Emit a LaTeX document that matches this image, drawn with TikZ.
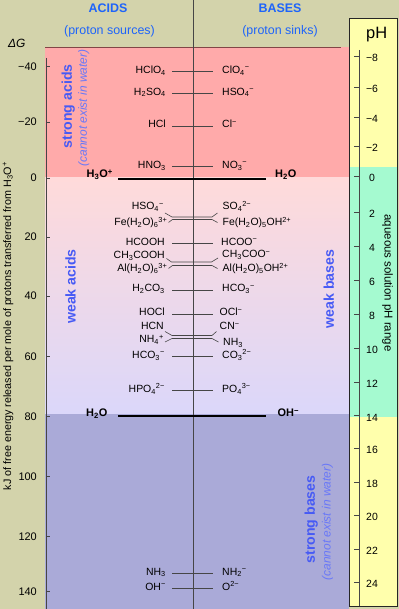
\documentclass[tikz,border=0pt]{standalone}
\usepackage{fontspec}
\setmainfont{Liberation Sans}
\definecolor{khakibg}{RGB}{211,211,171}
\definecolor{acidred}{RGB}{255,170,170}
\definecolor{weaktop}{RGB}{255,218,218}
\definecolor{weakbot}{RGB}{219,215,250}
\definecolor{basesblue}{RGB}{170,170,216}
\definecolor{phyellow}{RGB}{255,255,172}
\definecolor{phaqua}{RGB}{165,250,208}
\definecolor{headblue}{RGB}{30,100,250}
\definecolor{labelblue}{RGB}{70,90,245}
\definecolor{noteblue}{RGB}{105,120,248}
\definecolor{pairgray}{RGB}{70,70,70}
\definecolor{topline}{RGB}{130,70,70}
\begin{document}
\begin{tikzpicture}[
    acidlbl/.style={anchor=base east,inner sep=0pt,font=\fontsize{10.5}{12}\selectfont},
    baselbl/.style={anchor=base west,inner sep=0pt,font=\fontsize{10.5}{12}\selectfont},
    waterlbl/.style={inner sep=0pt,font=\bfseries\fontsize{11}{13}\selectfont},
    pair/.style={draw=pairgray,line width=0.6bp},
    waterline/.style={line width=1.3bp},
    tick/.style={draw=pairgray,line width=0.6bp},
    dglbl/.style={anchor=east,inner sep=0pt,font=\fontsize{11}{13}\selectfont},
    phlbl/.style={inner sep=0pt,font=\fontsize{10.5}{12}\selectfont},
    header/.style={text=headblue,font=\bfseries\fontsize{12.5}{14}\selectfont},
    subheader/.style={text=headblue,font=\fontsize{12.5}{14}\selectfont},
    region/.style={rotate=90,text=labelblue,font=\bfseries\fontsize{14.2}{16}\selectfont},
    regionnote/.style={rotate=90,text=noteblue,font=\itshape\fontsize{12}{14}\selectfont}]
  \useasboundingbox (0bp,0bp) rectangle (399bp,609bp);
  \fill [khakibg] (0bp,0bp) rectangle (399bp,609bp);
  %% bands
  \fill [acidred] (45bp,431bp) rectangle (349bp,562bp);
  \shade [top color=weaktop,bottom color=weakbot] (45bp,195bp) rectangle (349bp,431bp);
  \fill [basesblue] (45bp,0bp) rectangle (349bp,195bp);
  \draw [topline,line width=0.8bp] (45bp,562bp) -- (341bp,562bp);
  \draw [pairgray,line width=0.6bp] (193.3bp,0bp) -- (193.3bp,609bp);
  %% headers
  \node (Acids) at (108bp,600.3bp) [header] {ACIDS};
  \node (Sources) at (109.5bp,577.7bp) [subheader] {(proton sources)};
  \node (Bases) at (280bp,600.3bp) [header] {BASES};
  \node (Sinks) at (280bp,577.7bp) [subheader] {(proton sinks)};
  \node (DeltaG) at (16.7bp,565.2bp) [font=\itshape\fontsize{12}{14}\selectfont] {ΔG};
  \node (AxisTitle) at (8bp,283bp) [rotate=90,font=\fontsize{10.8}{12}\selectfont] {kJ of free energy released per mole of protons transferred from H\textsubscript{3}O\textsuperscript{+}};
  %% energy axis
  \draw [tick] (46bp,551bp) -- (46bp,0bp);
  \draw [tick] (46bp,542.3bp) -- (50bp,542.3bp);
  \node (dGm40) at (37bp,542.3bp) [dglbl] {−40};
  \draw [tick] (46bp,487bp) -- (50bp,487bp);
  \node (dGm20) at (37bp,487bp) [dglbl] {−20};
  \draw [tick] (46bp,431bp) -- (50bp,431bp);
  \node (dG0) at (37bp,431bp) [dglbl] {0};
  \draw [tick] (46bp,372bp) -- (50bp,372bp);
  \node (dG20) at (37bp,372bp) [dglbl] {20};
  \draw [tick] (46bp,313bp) -- (50bp,313bp);
  \node (dG40) at (37bp,313bp) [dglbl] {40};
  \draw [tick] (46bp,252.3bp) -- (50bp,252.3bp);
  \node (dG60) at (37bp,252.3bp) [dglbl] {60};
  \draw [tick] (46bp,192.3bp) -- (50bp,192.3bp);
  \node (dG80) at (37bp,192.3bp) [dglbl] {80};
  \draw [tick] (46bp,132.3bp) -- (50bp,132.3bp);
  \node (dG100) at (37bp,132.3bp) [dglbl] {100};
  \draw [tick] (46bp,72.3bp) -- (50bp,72.3bp);
  \node (dG120) at (37bp,72.3bp) [dglbl] {120};
  \draw [tick] (46bp,17.3bp) -- (50bp,17.3bp);
  \node (dG140) at (37bp,17.3bp) [dglbl] {140};
  %% region labels
  \node (StrongAcids) at (68.3bp,502.5bp) [region] {strong acids};
  \node (StrongAcidsNote) at (83.8bp,501bp) [regionnote] {(cannot exist in water)};
  \node (WeakAcids) at (70.5bp,322.5bp) [region] {weak acids};
  \node (WeakBases) at (328.7bp,320bp) [region] {weak bases};
  \node (StrongBases) at (311.3bp,89.5bp) [region] {strong bases};
  \node (StrongBasesNote) at (327.5bp,87bp) [regionnote] {(cannot exist in water)};
  %% water levels
  \node (H3Op) at (113bp,431bp) [waterlbl,anchor=base east] {H\textsubscript{3}O\textsuperscript{+}};
  \node (H2Oa) at (275bp,431bp) [waterlbl,anchor=base west] {H\textsubscript{2}O};
  \draw [waterline] ([shift={(5bp,-1bp)}]H3Op.base east) -- ([shift={(-9bp,-1bp)}]H2Oa.base west);
  \node (H2Ob) at (107.5bp,192bp) [waterlbl,anchor=base east] {H\textsubscript{2}O};
  \node (OHm) at (277.5bp,192bp) [waterlbl,anchor=base west] {OH\textsuperscript{−}};
  \draw [waterline] ([shift={(10.5bp,1bp)}]H2Ob.base east) -- ([shift={(-11.5bp,1bp)}]OHm.base west);
  %% strong acids
  \node (HClO4) at (166bp,535.3bp) [acidlbl] {HClO\textsubscript{4}};
  \node (ClO4m) at (222bp,535.3bp) [baselbl] {ClO\textsubscript{4}\textsuperscript{−}};
  \draw [pair] ([shift={(6bp,2bp)}]HClO4.base east) -- ([shift={(-9bp,2bp)}]ClO4m.base west);
  \node (H2SO4) at (166bp,513.7bp) [acidlbl] {H\textsubscript{2}SO\textsubscript{4}};
  \node (HSO4m) at (222bp,513.7bp) [baselbl] {HSO\textsubscript{4}\textsuperscript{−}};
  \draw [pair] ([shift={(6bp,2bp)}]H2SO4.base east) -- ([shift={(-9bp,2bp)}]HSO4m.base west);
  \node (HCl) at (166bp,481bp) [acidlbl] {HCl};
  \node (Clm) at (222bp,481bp) [baselbl] {Cl\textsuperscript{−}};
  \draw [pair] ([shift={(6bp,2bp)}]HCl.base east) -- ([shift={(-9bp,2bp)}]Clm.base west);
  \node (HNO3) at (166bp,440.3bp) [acidlbl] {HNO\textsubscript{3}};
  \node (NO3m) at (222bp,440.3bp) [baselbl] {NO\textsubscript{3}\textsuperscript{−}};
  \draw [pair] ([shift={(6bp,2bp)}]HNO3.base east) -- ([shift={(-9bp,2bp)}]NO3m.base west);
  %% weak acids
  \node (HSO4ma) at (164bp,399bp) [acidlbl] {HSO\textsubscript{4}\textsuperscript{−}};
  \node (SO4mm) at (222.5bp,399bp) [baselbl] {SO\textsubscript{4}\textsuperscript{2−}};
  \draw [pair] ([shift={(1bp,-3bp)}]HSO4ma.base east) -- ++(7bp,-4bp) -- ++(40bp,0bp) -- ([shift={(-5bp,-3bp)}]SO4mm.base west);
  \node (FeH2O6) at (167.5bp,383bp) [acidlbl] {Fe(H\textsubscript{2}O)\textsubscript{6}\textsuperscript{3+}};
  \node (FeOH) at (222.5bp,383bp) [baselbl] {Fe(H\textsubscript{2}O)\textsubscript{5}OH\textsuperscript{2+}};
  \draw [pair] ([shift={(1bp,3.5bp)}]FeH2O6.base east) -- ++(4bp,3bp) -- ++(39.5bp,0bp) -- ([shift={(-5bp,3.5bp)}]FeOH.base west);
  \node (HCOOH) at (165bp,363.7bp) [acidlbl] {HCOOH};
  \node (HCOOm) at (221bp,363.7bp) [baselbl] {HCOO\textsuperscript{−}};
  \draw [pair] ([shift={(7bp,2bp)}]HCOOH.base east) -- ([shift={(-8bp,2bp)}]HCOOm.base west);
  \node (CH3COOH) at (165bp,350.5bp) [acidlbl] {CH\textsubscript{3}COOH};
  \node (CH3COOm) at (222bp,351bp) [baselbl] {CH\textsubscript{3}COO\textsuperscript{−}};
  \draw [pair] ([shift={(1.5bp,0bp)}]CH3COOH.base east) -- ++(5bp,-3.5bp) -- ++(40bp,0bp) -- ([shift={(-4bp,0bp)}]CH3COOm.base west);
  \node (AlH2O6) at (167.5bp,337bp) [acidlbl] {Al(H\textsubscript{2}O)\textsubscript{6}\textsuperscript{3+}};
  \node (AlOH) at (222.5bp,337bp) [baselbl] {Al(H\textsubscript{2}O)\textsubscript{5}OH\textsuperscript{2+}};
  \draw [pair] ([shift={(1bp,3.5bp)}]AlH2O6.base east) -- ++(4bp,3bp) -- ++(39.5bp,0bp) -- ([shift={(-5bp,3.5bp)}]AlOH.base west);
  \node (H2CO3) at (165bp,317bp) [acidlbl] {H\textsubscript{2}CO\textsubscript{3}};
  \node (HCO3m) at (222bp,317bp) [baselbl] {HCO\textsubscript{3}\textsuperscript{−}};
  \draw [pair] ([shift={(7bp,2bp)}]H2CO3.base east) -- ([shift={(-9bp,2bp)}]HCO3m.base west);
  \node (HOCl) at (165bp,293bp) [acidlbl] {HOCl};
  \node (OClm) at (219.5bp,293bp) [baselbl] {OCl\textsuperscript{−}};
  \draw [pair] ([shift={(7bp,2bp)}]HOCl.base east) -- ([shift={(-6.5bp,2bp)}]OClm.base west);
  \node (HCN) at (164bp,279bp) [acidlbl] {HCN};
  \node (CNm) at (219.5bp,279bp) [baselbl] {CN\textsuperscript{−}};
  \draw [pair] ([shift={(1bp,-1.5bp)}]HCN.base east) -- ++(7bp,-4bp) -- ++(40bp,0bp) -- ([shift={(-3bp,-1.5bp)}]CNm.base west);
  \node (NH4p) at (164bp,266bp) [acidlbl] {NH\textsubscript{4}\textsuperscript{+}};
  \node (NH3b) at (223bp,263.5bp) [baselbl] {NH\textsubscript{3}};
  \draw [pair] ([shift={(1bp,1bp)}]NH4p.base east) -- ++(7bp,3.5bp) -- ++(40bp,0bp) -- ([shift={(-4.5bp,3.5bp)}]NH3b.base west);
  \node (HCO3ma) at (165bp,250.3bp) [acidlbl] {HCO\textsubscript{3}\textsuperscript{−}};
  \node (CO3mm) at (222bp,250.3bp) [baselbl] {CO\textsubscript{3}\textsuperscript{2−}};
  \draw [pair] ([shift={(7bp,2bp)}]HCO3ma.base east) -- ([shift={(-9bp,2bp)}]CO3mm.base west);
  \node (HPO4mm) at (165bp,216.5bp) [acidlbl] {HPO\textsubscript{4}\textsuperscript{2−}};
  \node (PO4mmm) at (222bp,216.5bp) [baselbl] {PO\textsubscript{4}\textsuperscript{3−}};
  \draw [pair] ([shift={(7bp,2bp)}]HPO4mm.base east) -- ([shift={(-9bp,2bp)}]PO4mmm.base west);
  %% strong bases
  \node (NH3a) at (166bp,33.7bp) [acidlbl] {NH\textsubscript{3}};
  \node (NH2m) at (222bp,33.7bp) [baselbl] {NH\textsubscript{2}\textsuperscript{−}};
  \draw [pair] ([shift={(6bp,2bp)}]NH3a.base east) -- ([shift={(-9bp,2bp)}]NH2m.base west);
  \node (OHma) at (166bp,18.7bp) [acidlbl] {OH\textsuperscript{−}};
  \node (Omm) at (222bp,18.7bp) [baselbl] {O\textsuperscript{2−}};
  \draw [pair] ([shift={(6bp,2bp)}]OHma.base east) -- ([shift={(-9bp,2bp)}]Omm.base west);
  %% pH scale
  \fill [phyellow] (349bp,2.5bp) rectangle (397.5bp,590bp);
  \fill [phaqua] (349bp,192bp) rectangle (397.5bp,442bp);
  \draw [black!85,line width=1bp] (349bp,2.5bp) rectangle (397.5bp,590bp);
  \node (pH) at (376.7bp,574bp) [font=\fontsize{16.5}{18}\selectfont] {pH};
  \node (pHrange) at (387.5bp,326bp) [rotate=-90,font=\fontsize{11.5}{13}\selectfont] {aqueous solution pH range};
  \draw [tick] (359bp,559bp) -- (359bp,2.5bp);
  \draw [tick] (354bp,553bp) -- (359bp,553bp);
  \node (pHm8) at (372bp,551.5bp) [phlbl] {−8};
  \draw [tick] (354bp,522bp) -- (359bp,522bp);
  \node (pHm6) at (372bp,520.5bp) [phlbl] {−6};
  \draw [tick] (354bp,492bp) -- (359bp,492bp);
  \node (pHm4) at (372bp,490.5bp) [phlbl] {−4};
  \draw [tick] (354bp,462.3bp) -- (359bp,462.3bp);
  \node (pHm2) at (372bp,460.8bp) [phlbl] {−2};
  \draw [tick] (354bp,432.5bp) -- (359bp,432.5bp);
  \node (pH0) at (372bp,431bp) [phlbl] {0};
  \draw [tick] (354bp,397bp) -- (359bp,397bp);
  \node (pH2) at (372bp,395.5bp) [phlbl] {2};
  \draw [tick] (354bp,363bp) -- (359bp,363bp);
  \node (pH4) at (372bp,361.5bp) [phlbl] {4};
  \draw [tick] (354bp,329bp) -- (359bp,329bp);
  \node (pH6) at (372bp,327.5bp) [phlbl] {6};
  \draw [tick] (354bp,295bp) -- (359bp,295bp);
  \node (pH8) at (372bp,293.5bp) [phlbl] {8};
  \draw [tick] (354bp,261bp) -- (359bp,261bp);
  \node (pH10) at (372bp,259.5bp) [phlbl] {10};
  \draw [tick] (354bp,227bp) -- (359bp,227bp);
  \node (pH12) at (372bp,225.5bp) [phlbl] {12};
  \draw [tick] (354bp,194bp) -- (359bp,194bp);
  \node (pH14) at (372bp,191bp) [phlbl] {14};
  \draw [tick] (354bp,161bp) -- (359bp,161bp);
  \node (pH16) at (372bp,159.5bp) [phlbl] {16};
  \draw [tick] (354bp,127bp) -- (359bp,127bp);
  \node (pH18) at (372bp,125.5bp) [phlbl] {18};
  \draw [tick] (354bp,94bp) -- (359bp,94bp);
  \node (pH20) at (372bp,92.5bp) [phlbl] {20};
  \draw [tick] (354bp,60bp) -- (359bp,60bp);
  \node (pH22) at (372bp,58.5bp) [phlbl] {22};
  \draw [tick] (354bp,27bp) -- (359bp,27bp);
  \node (pH24) at (372bp,25.5bp) [phlbl] {24};
\end{tikzpicture}
\end{document}
